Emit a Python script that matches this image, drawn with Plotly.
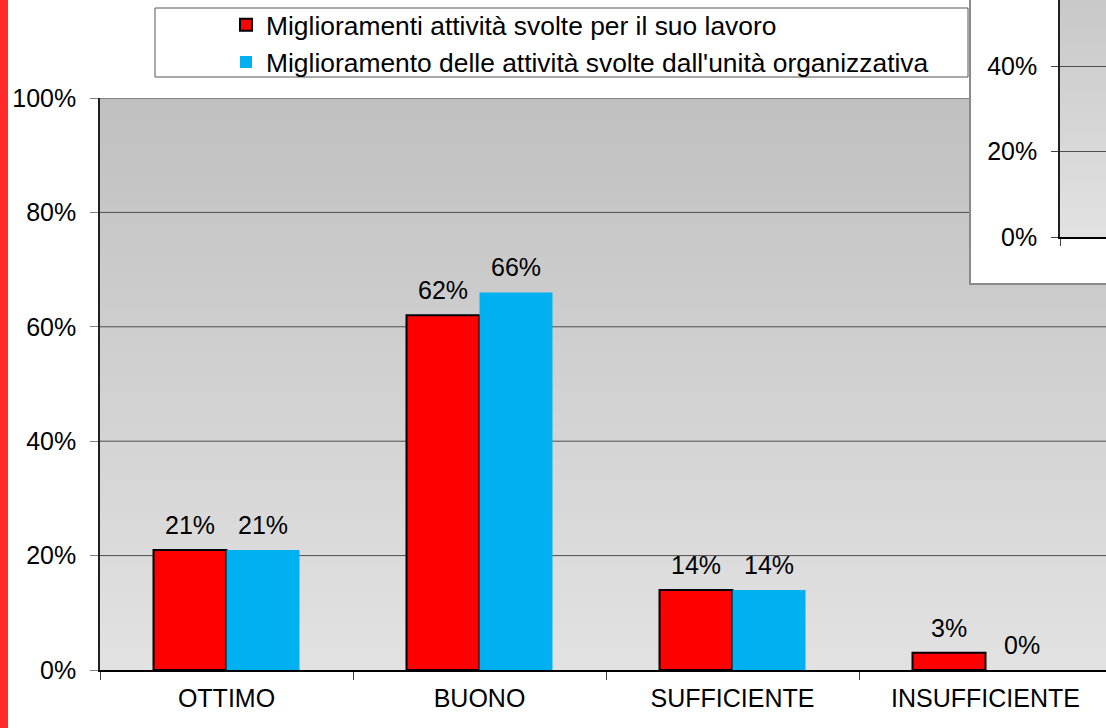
import plotly.graph_objects as go

# ---------------- data ----------------
categories = ["OTTIMO", "BUONO", "SUFFICIENTE", "INSUFFICIENTE"]
series_names = [
    "Miglioramenti attività svolte per il suo lavoro",
    "Miglioramento delle attività svolte dall'unità organizzativa",
]
values_lavoro = [0.21, 0.62, 0.14, 0.03]
values_unita = [0.21, 0.66, 0.14, 0.00]
y_ticks = [0, 0.2, 0.4, 0.6, 0.8, 1.0]
inset_ticks = [0, 0.2, 0.4]

# ---------------- geometry (pixels) ----------------
W, H = 1106, 728
MB = 58
PH = H - MB                    # paper height (paper starts at top of page)
plot_left, plot_top, plot_bottom = 100, 98, 670
cat_px = 253                   # pixel width of one category
inset_left, inset_axis_x, inset_zero_y, inset_box_bottom = 970, 1060, 237, 284
inset_step_px = 85.5           # pixels per 20% in the inset

def px_x(p):
    return p / W

def px_y(p):
    return (PH - p) / PH

FONT = "Arial, Liberation Sans, sans-serif"
RED = "#FF0000"
BLUE = "#00B0F0"
GRID = "#4d4d4d"

fig = go.Figure()
fig.add_trace(go.Bar(
    x=categories, y=values_lavoro, name=series_names[0],
    marker=dict(color=RED, line=dict(color="#000000", width=2)),
    xaxis="x", yaxis="y",
))
fig.add_trace(go.Bar(
    x=categories, y=values_unita, name=series_names[1],
    marker=dict(color=BLUE, line=dict(color=BLUE, width=0)),
    xaxis="x", yaxis="y",
))
# inset chart (only its axes are visible in the picture)
fig.add_trace(go.Scatter(x=[], y=[], xaxis="x2", yaxis="y2", showlegend=False))

bargap = 0.423
half_bar = cat_px * (1 - bargap) / 4

shapes = []
# left red strip
shapes.append(dict(type="rect", xref="paper", yref="paper",
                   x0=0, x1=px_x(8), y0=-MB / PH - 0.01, y1=1.0,
                   fillcolor="#FF2A2A", line=dict(width=0), layer="below"))
# main plot gradient background
N = 90
top_c, bot_c = 192, 226
for i in range(N):
    t = (i + 0.5) / N
    c = round(bot_c + (top_c - bot_c) * t)
    shapes.append(dict(type="rect", xref="x domain", yref="y domain",
                       x0=0, x1=1, y0=i / N, y1=min(1, (i + 1.6) / N),
                       fillcolor=f"rgb({c},{c},{c})", line=dict(width=0),
                       layer="below"))
# main gridlines
for v in y_ticks[1:]:
    shapes.append(dict(type="line", xref="x domain", yref="y",
                       x0=0, x1=1, y0=v, y1=v,
                       line=dict(color=GRID, width=1), layer="below"))
# legend box
shapes.append(dict(type="rect", xref="paper", yref="paper",
                   x0=px_x(155), x1=px_x(968), y0=px_y(77), y1=px_y(8),
                   fillcolor="#FFFFFF", line=dict(color="#555555", width=1),
                   layer="below"))
# inset white box
shapes.append(dict(type="rect", xref="paper", yref="paper",
                   x0=px_x(inset_left), x1=1.02, y0=px_y(inset_box_bottom), y1=1.05,
                   fillcolor="#FFFFFF", line=dict(color="#8a8a8a", width=2),
                   layer="below"))
# inset gradient
N2 = 40
top2, bot2 = 200, 226
for i in range(N2):
    t = (i + 0.5) / N2
    c = round(bot2 + (top2 - bot2) * t)
    shapes.append(dict(type="rect", xref="x2 domain", yref="y2 domain",
                       x0=0, x1=1, y0=i / N2, y1=min(1, (i + 1.6) / N2),
                       fillcolor=f"rgb({c},{c},{c})", line=dict(width=0),
                       layer="below"))

annotations = []
for cat, v in zip(categories, values_lavoro):
    annotations.append(dict(x=cat, y=v, xref="x", yref="y", text=f"{round(v*100)}%",
                            showarrow=False, xshift=-half_bar, yshift=25,
                            yanchor="middle", font=dict(family=FONT, size=25, color="#000")))
for cat, v in zip(categories, values_unita):
    annotations.append(dict(x=cat, y=v, xref="x", yref="y", text=f"{round(v*100)}%",
                            showarrow=False, xshift=half_bar, yshift=25,
                            yanchor="middle", font=dict(family=FONT, size=25, color="#000")))

x_span = (W - plot_left) / cat_px

fig.update_layout(
    width=W, height=H,
    margin=dict(l=0, r=0, t=0, b=MB, pad=0),
    paper_bgcolor="#FFFFFF",
    plot_bgcolor="rgba(0,0,0,0)",
    barmode="group", bargap=bargap, bargroupgap=0,
    font=dict(family=FONT, size=25, color="#000000"),
    shapes=shapes,
    annotations=annotations,
    showlegend=True,
    legend=dict(
        x=px_x(226), y=px_y(1), xanchor="left", yanchor="top",
        bgcolor="rgba(0,0,0,0)", borderwidth=0,
        font=dict(family=FONT, size=26.4, color="#000000"),
        itemwidth=30, traceorder="normal",
    ),
    xaxis=dict(
        domain=[px_x(plot_left), 1], range=[-0.5, -0.5 + x_span],
        type="category", showgrid=False, zeroline=False,
        showline=True, linecolor="#000000", linewidth=1.5,
        ticks="outside", tickson="boundaries", ticklen=8, tickcolor="#404040",
        ticklabelstandoff=5,
        tickfont=dict(family=FONT, size=25, color="#000"), automargin=False,
        fixedrange=True,
    ),
    yaxis=dict(
        domain=[0, px_y(plot_top)], range=[0, 1],
        tickvals=y_ticks, tickformat=".0%",
        showgrid=False, zeroline=False,
        showline=True, linecolor="#202020", linewidth=1.5,
        ticks="outside", ticklen=8, tickcolor="#808080", ticklabelstandoff=9,
        tickfont=dict(family=FONT, size=25, color="#000"), automargin=False,
        anchor="x",
    ),
    xaxis2=dict(
        domain=[px_x(inset_axis_x), 1], range=[0, 1], anchor="y2",
        showgrid=False, zeroline=False, showline=True, linecolor="#000000", linewidth=1.5,
        tickvals=[0], ticks="outside", ticklen=7, tickcolor="#404040",
        showticklabels=False, automargin=False,
    ),
    yaxis2=dict(
        domain=[px_y(inset_zero_y), 1],
        range=[0, inset_zero_y / inset_step_px * 0.2], anchor="x2",
        tickvals=inset_ticks, tickformat=".0%",
        showgrid=True, gridcolor=GRID, gridwidth=1, zeroline=False,
        showline=True, linecolor="#202020", linewidth=1.5,
        ticks="outside", ticklen=7, tickcolor="#404040", ticklabelstandoff=9,
        tickfont=dict(family=FONT, size=25, color="#000"), automargin=False,
    ),
)

fig.write_html(
    "out.html",
    config={"displayModeBar": False},
    post_script="document.body.style.margin='0';document.body.style.overflow='hidden';",
)
